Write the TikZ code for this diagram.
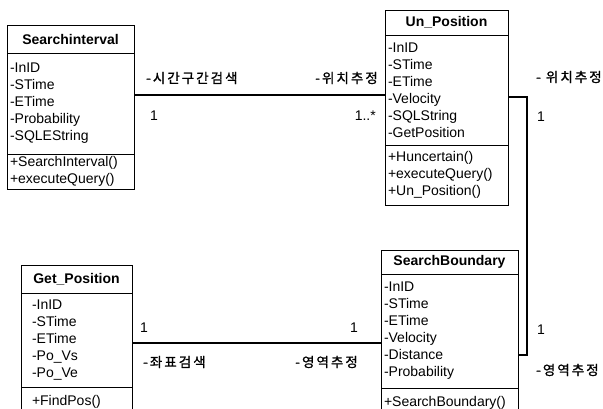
\documentclass[tikz,border=0pt]{standalone}
\usepackage{fontspec}
\setmainfont{Liberation Sans}
\newfontfamily\kor[LetterSpace=15, FakeBold=1.2]{Noto Sans CJK KR}
\usetikzlibrary{positioning}

\tikzset{
	ttl/.style={draw, line width=0.8pt, outer sep=0pt, inner xsep=3pt, inner ysep=0pt, align=center, font=\fontsize{14}{17}\selectfont\bfseries},
	mem/.style={draw, line width=0.8pt, outer sep=0pt, inner xsep=3pt, inner ysep=0pt, align=left, font=\fontsize{14}{17}\selectfont},
	link/.style={line width=1.2pt},
	lbl/.style={inner sep=0pt, font=\fontsize{14}{17}\selectfont},
	klbl/.style={inner sep=0pt, font=\kor\fontsize{13.5}{15}\selectfont}
}

\begin{document}
\begin{tikzpicture}[x=1pt, y=-1pt]
		\useasboundingbox (0,0) rectangle (603,409);
		\clip (0,0) rectangle (603,409);

		% Classes
		\node[ttl, text width=121pt, minimum height=28pt, anchor=north west] (si) at (7,25) {Searchinterval};
		\node[mem, text width=121pt, minimum height=101pt, below=0pt of si] (si-a) {-InID\\-STime\\-ETime\\-Probability\\-SQLEString};
		\node[mem, text width=121pt, minimum height=35pt, below=0pt of si-a] (si-m) {+SearchInterval()\\+executeQuery()};

		\node[ttl, text width=117pt, minimum height=25pt, anchor=north west] (up) at (385,10) {Un\_Position};
		\node[mem, text width=117pt, minimum height=110pt, below=0pt of up] (up-a) {-InID\\-STime\\-ETime\\-Velocity\\-SQLString\\-GetPosition};
		\node[mem, text width=117pt, minimum height=60pt, below=0pt of up-a] (up-m) {+Huncertain()\\+executeQuery()\\+Un\_Position()};

		\node[ttl, text width=89pt, inner xsep=11pt, minimum height=28pt, anchor=north west] (gp) at (21,265) {Get\_Position};
		\node[mem, text width=89pt, inner xsep=11pt, minimum height=94pt, below=0pt of gp] (gp-a) {-InID\\-STime\\-ETime\\-Po\_Vs\\-Po\_Ve};
		\node[mem, text width=89pt, inner xsep=11pt, minimum height=30pt, below=0pt of gp-a] (gp-m) {+FindPos()};

		\node[ttl, text width=131pt, minimum height=24pt, anchor=north west] (sb) at (381,250) {SearchBoundary};
		\node[mem, text width=131pt, minimum height=114pt, below=0pt of sb] (sb-a) {-InID\\-STime\\-ETime\\-Velocity\\-Distance\\-Probability};
		\node[mem, text width=131pt, minimum height=30pt, below=0pt of sb-a] (sb-m) {+SearchBoundary()};

		% Associations
		\coordinate (c1) at (0,95);
		\coordinate (c2) at (527,97);
		\coordinate (c3) at (527,355);
		\coordinate (c4) at (0,343);
		\draw[link] (si-a.east |- c1) -- (up-a.west |- c1);
		\draw[link] (up-a.east |- c2) -- (c2) -- (c3) -- (sb-a.east |- c3);
		\draw[link] (gp-a.east |- c4) -- (sb-a.west |- c4);

		% Roles and multiplicities
		\node[klbl, anchor=west] (r1) at (146,78) {-시간구간검색};
		\node[lbl, anchor=west] (m1) at (150,116) {1};
		\node[klbl, anchor=east] (r2) at (378,78) {-위치추정};
		\node[lbl, anchor=east] (m2) at (376,116) {1..*};
		\node[klbl, anchor=west] (r3) at (536,77) {- 위치추정};
		\node[lbl, anchor=west] (m3) at (537,117) {1};
		\node[lbl, anchor=west] (m4) at (537,330) {1};
		\node[klbl, anchor=west] (r4) at (536,370) {-영역추정};
		\node[lbl, anchor=west] (m5) at (140,328) {1};
		\node[klbl, anchor=west] (r5) at (143,362) {-좌표검색};
		\node[lbl, anchor=east] (m6) at (358,328) {1};
		\node[klbl, anchor=east] (r6) at (358,362) {-영역추정};
	\end{tikzpicture}
\end{document}
